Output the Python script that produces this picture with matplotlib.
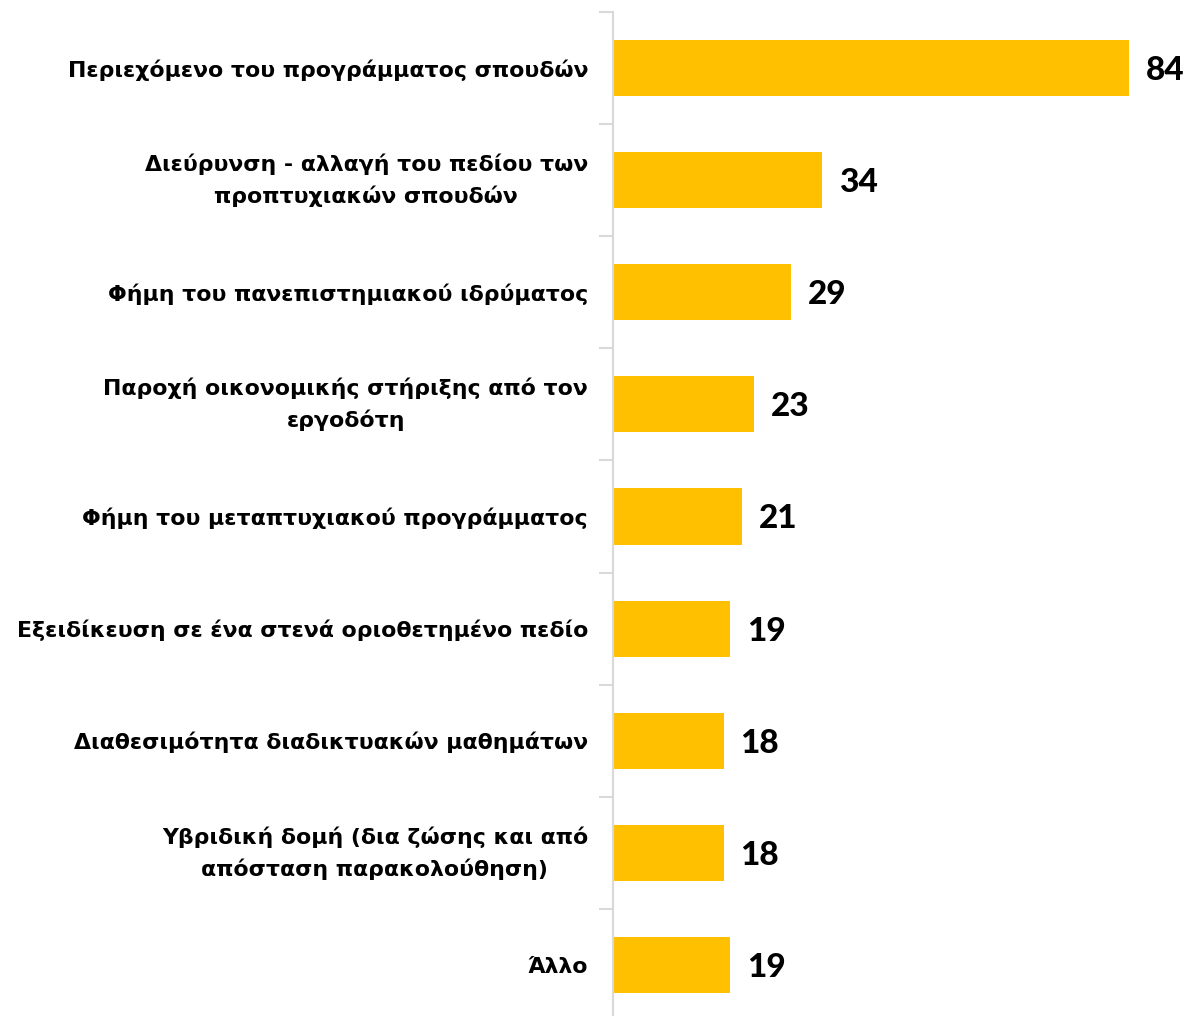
import matplotlib
matplotlib.use("Agg")
import matplotlib.pyplot as plt
import numpy as np

categories = [
    "Περιεχόμενο του προγράμματος σπουδών",
    "Διεύρυνση - αλλαγή του πεδίου των\nπροπτυχιακών σπουδών",
    "Φήμη του πανεπιστημιακού ιδρύματος",
    "Παροχή οικονομικής στήριξης από τον\nεργοδότη",
    "Φήμη του μεταπτυχιακού προγράμματος",
    "Εξειδίκευση σε ένα στενά οριοθετημένο πεδίο",
    "Διαθεσιμότητα διαδικτυακών μαθημάτων",
    "Υβριδική δομή (δια ζώσης και από\nαπόσταση παρακολούθηση)",
    "Άλλο",
]
values = [84, 34, 29, 23, 21, 19, 18, 18, 19]

W, H = 1189, 1016
fig = plt.figure(figsize=(W / 100, H / 100), dpi=100)
ax_left = 613 / W
top_px, bot_px = 12, 1021
ax = fig.add_axes([ax_left, 1 - bot_px / H, 1 - ax_left, (bot_px - top_px) / H])

n = len(categories)
y = np.arange(n)
ax.barh(y, values, height=0.5, color="#FFC000")
ax.set_ylim(n - 0.5, -0.5)
ax.set_xlim(0, (W - 613) / 6.14)

for yi, v in zip(y, values):
    ax.annotate(str(v), xy=(v, yi), xytext=(17, -12), textcoords="offset pixels",
                va="baseline", ha="left", fontsize=24, fontweight="black",
                color="black", family=["Lato", "DejaVu Sans"])

ax.set_yticks(y)
labels = ax.set_yticklabels(categories, fontsize=15.8, fontweight="bold", family="DejaVu Sans",
                            multialignment="center", linespacing=1.6)
for lab in labels:
    if "\n" in lab.get_text():
        lab.set_va("center")
ax.tick_params(axis="y", which="major", length=0, pad=18)
ax.set_yticks(np.arange(n + 1) - 0.5, minor=True)
ax.tick_params(axis="y", which="minor", length=10, color="#D9D9D9", width=1.5)
ax.set_xticks([])

for s in ["top", "right", "bottom"]:
    ax.spines[s].set_visible(False)
ax.spines["left"].set_color("#D9D9D9")
ax.spines["left"].set_linewidth(1.5)

fig.savefig("out.png", dpi=100)
